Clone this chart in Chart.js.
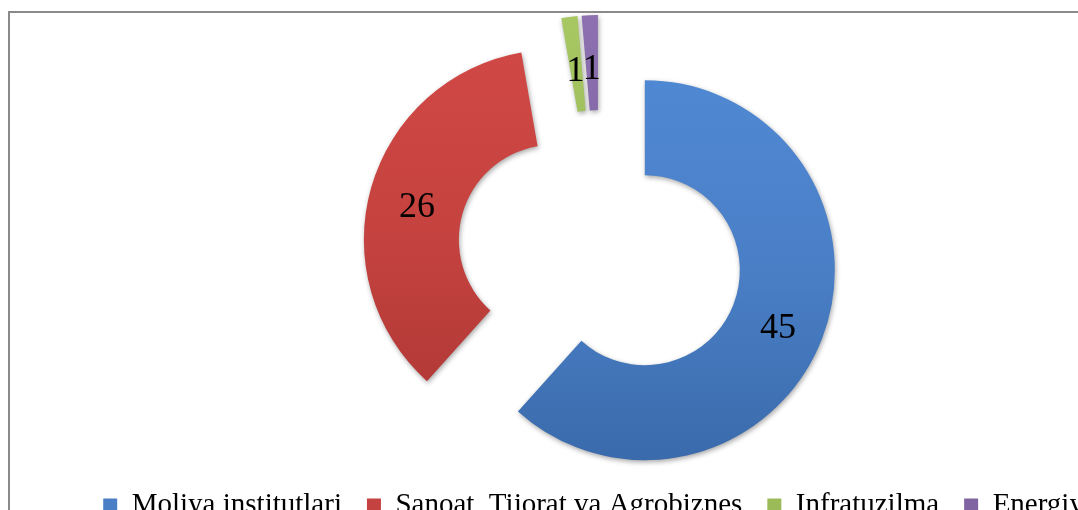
<!DOCTYPE html>
<html>
<head>
<meta charset="utf-8">
<script src="https://cdn.jsdelivr.net/npm/chart.js@4/dist/chart.umd.min.js"></script>
<style>
  html, body { margin: 0; padding: 0; background: #fff; overflow: hidden; width: 1078px; height: 510px; }
  #frame { position: absolute; left: 8px; top: 11px; border-left: 2px solid #8a8a8a; border-top: 2px solid #8a8a8a; }
  #chart { display: block; }
</style>
</head>
<body>
<div id="frame"><canvas id="chart" width="1180" height="517"></canvas></div>
<script>
  // data
  const categories = ['Moliya institutlari', 'Sanoat, Tijorat va Agrobiznes', 'Infratuzilma', 'Energiya'];
  const values = [45, 26, 1, 1];
  const colors = ['#4a7fc6', '#c4423f', '#9bbb59', '#8064a2'];
  const lightColors = ['#5089d4', '#d24946', '#a9c965', '#8e72b2'];
  const darkColors = ['#3868a8', '#ab3633', '#87a64a', '#6c5290'];

  const EXPLODE = 48;
  const serif = "'Liberation Serif', 'Times New Roman', serif";

  // doughnut whose slices are each pushed out along their middle angle
  class ExplodedDoughnut extends Chart.DoughnutController {
    draw() {
      const ctx = this.chart.ctx;
      const arcs = this._cachedMeta.data;
      arcs.forEach((arc) => {
        const mid = (arc.startAngle + arc.endAngle) / 2;
        ctx.save();
        ctx.translate(Math.cos(mid) * EXPLODE, Math.sin(mid) * EXPLODE);
        ctx.shadowColor = 'rgba(0, 0, 0, 0.35)';
        ctx.shadowBlur = 5;
        ctx.shadowOffsetX = 1;
        ctx.shadowOffsetY = 2;
        arc.draw(ctx, this.chart.chartArea);
        ctx.restore();
      });
    }
  }
  ExplodedDoughnut.id = 'explodedDoughnut';
  ExplodedDoughnut.defaults = Chart.DoughnutController.defaults;
  ExplodedDoughnut.overrides = Chart.DoughnutController.overrides;
  Chart.register(ExplodedDoughnut);

  function sliceFill(context) {
    const i = context.dataIndex;
    const area = context.chart.chartArea;
    if (!area) return colors[i];
    const g = context.chart.ctx.createLinearGradient(0, area.top, 0, area.bottom);
    g.addColorStop(0, lightColors[i]);
    g.addColorStop(0.5, colors[i]);
    g.addColorStop(1, darkColors[i]);
    return g;
  }

  const valueLabels = {
    id: 'valueLabels',
    afterDatasetsDraw(chart) {
      const ctx = chart.ctx;
      const meta = chart.getDatasetMeta(0);
      ctx.save();
      ctx.font = `36px ${serif}`;
      ctx.fillStyle = '#000';
      ctx.textAlign = 'center';
      ctx.textBaseline = 'middle';
      meta.data.forEach((arc, i) => {
        const p = arc.getCenterPoint();
        const mid = (arc.startAngle + arc.endAngle) / 2;
        ctx.fillText(String(values[i]), p.x + Math.cos(mid) * EXPLODE, p.y + Math.sin(mid) * EXPLODE + 7);
      });
      ctx.restore();
    }
  };

  new Chart(document.getElementById('chart'), {
    type: 'explodedDoughnut',
    data: {
      labels: categories,
      datasets: [{
        data: values,
        backgroundColor: sliceFill,
        borderWidth: 0
      }]
    },
    options: {
      responsive: false,
      animation: false,
      radius: 190,
      cutout: '50%',
      layout: { padding: { top: 27, bottom: 0, left: 0, right: 0 } },
      plugins: {
        tooltip: { enabled: false },
        legend: {
          position: 'bottom',
          labels: {
            boxWidth: 14,
            boxHeight: 14,
            padding: 25,
            color: '#000',
            font: { family: serif, size: 29 },
            generateLabels: () => categories.map((text, i) => ({
              text,
              fillStyle: colors[i],
              strokeStyle: colors[i],
              lineWidth: 0,
              hidden: false,
              index: i
            }))
          }
        }
      }
    },
    plugins: [valueLabels]
  });
</script>
</body>
</html>
